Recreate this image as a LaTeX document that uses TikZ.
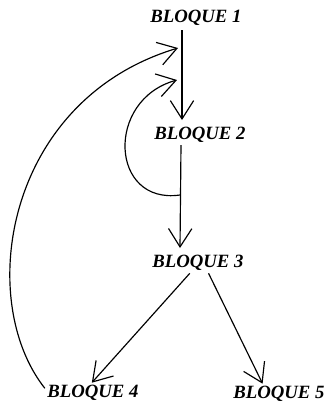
\documentclass[tikz,border=0pt]{standalone}
\usepackage{fontspec}
\setmainfont{Liberation Serif}
\usepackage{tikz}
\usetikzlibrary{arrows.meta,positioning,calc}

\begin{document}
\begin{tikzpicture}[
    x=0.03cm, y=-0.03cm,
    bloque/.style={inner sep=2pt, font=\fontsize{16}{18}\selectfont\bfseries\itshape},
    arr/.style={-{Straight Barb[length=5.5mm, width=7mm]}, line width=1pt}
  ]
    \useasboundingbox (0,0) rectangle (324,407);
    \node[bloque] (b1) at (196,18) {BLOQUE 1};
    \node[bloque] (b2) at (200,135) {BLOQUE 2};
    \node[bloque] (b3) at (198,263) {BLOQUE 3};
    \node[bloque] (b4) at (93,393) {BLOQUE 4};
    \node[bloque] (b5) at (279,394) {BLOQUE 5};
    % points on the vertical lines
    \coordinate (top1) at (182,30);
    \coordinate (tip2) at (182,120);
    \coordinate (top2) at (181,145);
    \coordinate (tip3) at (180,248);
    \coordinate (ret) at (180,195);
    \coordinate (in1) at (178,48);
    \coordinate (in2) at (177,80);
    \draw[arr] (top1) -- (tip2);
    \draw[arr] (top2) -- (tip3);
    \draw[arr] ([xshift=-7]b3.south) -- ([xshift=-1]b4.north);
    \draw[arr] ([xshift=9]b3.south) -- ([xshift=-14]b5.north);
    \draw[arr] (ret) .. controls (110,205) and (105,100) .. (in2);
    \draw[arr] ([yshift=4]b4.west) .. controls (-25,300) and (5,100) .. (in1);
\end{tikzpicture}
\end{document}
